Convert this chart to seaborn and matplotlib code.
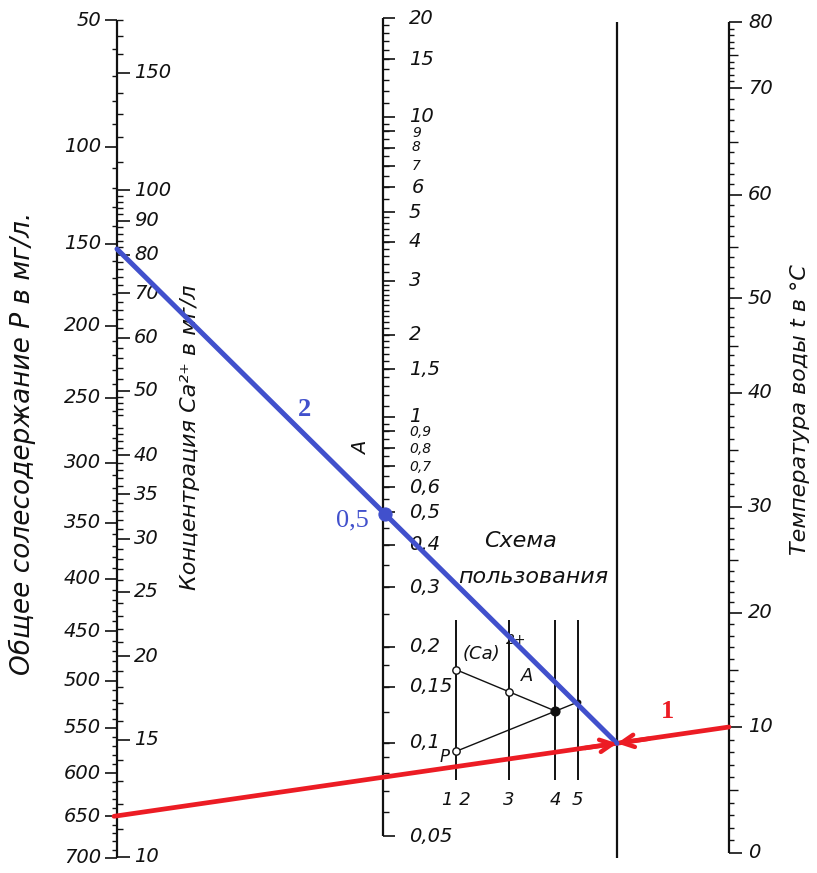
import numpy as np
import pandas as pd
import matplotlib
matplotlib.use('Agg')
import matplotlib.pyplot as plt
import seaborn as sns

# scale values (what is written on each scale)
p_labels = list(range(50, 701, 50))
ca_labels = [10, 15, 20, 25, 30, 35, 40, 50, 60, 70, 80, 90, 100, 150]
a_labels = [0.05, 0.1, 0.15, 0.2, 0.3, 0.4, 0.5, 0.6, 0.7, 0.8, 0.9,
            1, 1.5, 2, 3, 4, 5, 6, 7, 8, 9, 10, 15, 20]
t_labels = list(range(0, 81, 10))

# worked example on the chart: line 1 (P, t) and line 2 (through A)
p_value = 650
t_value = 10
a_value = 0.5

# values used in the small "how to use" scheme
scheme_p = 530
scheme_t = 35
scheme_a = 1.2
scheme_names = ['1 2', '3', '4', '5']

# ---- layout of the nomogram (pixel space) ----
X_LEFT, X_A, X_REF, X_T = 117, 383, 617, 729
INK = '#111111'
BLUE = '#4150cc'
RED = '#ec1c24'

A_CAL = ([0.05, 0.1, 0.2, 0.5, 1, 2, 5, 10, 20],
         [836, 743, 647, 512, 417, 335, 212, 117, 18])
T_CAL = ([0, 10, 20, 30, 40, 50, 60, 70, 80],
         [853, 727, 613, 507, 393, 298, 195, 88, 22])


def y_p(p):
    return 20 + 43.22 * (np.sqrt(np.asarray(p, float)) - np.sqrt(50))


def y_ca(ca):
    return 857 - 667 * np.log10(np.asarray(ca, float) / 10)


def y_a(a):
    return np.interp(np.log10(a), np.log10(A_CAL[0]), A_CAL[1])


def y_t(t):
    return np.interp(t, T_CAL[0], T_CAL[1])


def through(x0, y0, x1, y1, x):
    # y on the straight line through (x0, y0) and (x1, y1)
    return y0 + (y1 - y0) * (x - x0) / (x1 - x0)


def fmt(v):
    return f'{v:g}'.replace('.', ',')


sns.set_style('white')
plt.rcParams['font.family'] = ['DejaVu Sans']

fig = plt.figure(figsize=(8.17, 8.73), dpi=100)
ax = fig.add_axes([0, 0, 1, 1])
ax.set_xlim(0, 817)
ax.set_ylim(873, 0)
ax.axis('off')

lab = dict(fontsize=14, style='italic', color=INK)

# ---- left double scale: P (left side) and Ca (right side) ----
ax.vlines(X_LEFT, y_p(50), y_p(700), color=INK, lw=1.6)
ax.hlines(y_p(p_labels), X_LEFT - 12, X_LEFT, color=INK, lw=1.2)
p_minor = [v for v in range(60, 700, 10) if v % 50]
ax.hlines(y_p(p_minor), X_LEFT - 5, X_LEFT, color=INK, lw=1.0)
for v in p_labels:
    ax.text(X_LEFT - 16, y_p(v), str(v), ha='right', va='center', **lab)

ax.hlines(y_ca(ca_labels), X_LEFT, X_LEFT + 13, color=INK, lw=1.2)
ca_minor = ([v for v in range(11, 50) if v % 5] +
            [v for v in range(52, 100, 2) if v % 10] +
            [v for v in range(110, 190, 10) if v != 150])
ax.hlines(y_ca(ca_minor), X_LEFT, X_LEFT + 6, color=INK, lw=1.0)
for v in ca_labels:
    ax.text(X_LEFT + 17, y_ca(v), str(v), ha='left', va='center', **lab)

# ---- middle scale A ----
ax.vlines(X_A, y_a(20), y_a(0.05), color=INK, lw=1.6)
ax.hlines(y_a(np.array(a_labels)), X_A, X_A + 12, color=INK, lw=1.2)
a_minor = np.concatenate([np.arange(0.06, 0.1, 0.01), np.arange(0.125, 0.2, 0.025),
                          np.arange(0.25, 1.0, 0.05), np.arange(1.1, 3.0, 0.1),
                          np.arange(3.2, 5.0, 0.2), np.arange(5.5, 10, 0.5),
                          np.arange(11, 20, 1)])
ax.hlines(y_a(a_minor), X_A, X_A + 6, color=INK, lw=1.0)
for v in a_labels:
    small = v in (0.7, 0.8, 0.9, 7, 8, 9)
    dy = {0.9: 1, 0.8: 1, 0.7: 1, 9: 2, 8: -1}.get(v, 0)
    ax.text(X_A + 26 + (3 if 6 <= v < 10 else 0), y_a(v) + dy, fmt(v), ha='left', va='center',
            fontsize=10 if small else 14, style='italic', color=INK)
ax.text(X_A - 21, 448, 'A', rotation=90, ha='center', va='center', **lab)

# ---- reference line (no scale) ----
ax.vlines(X_REF, 22, 858, color=INK, lw=1.6)

# ---- right scale: temperature ----
ax.vlines(X_T, y_t(0), y_t(80), color=INK, lw=1.6)
ax.hlines(y_t(t_labels), X_T, X_T + 13, color=INK, lw=1.2)
t_mid = [v for v in range(5, 80, 10)]
ax.hlines(y_t(t_mid), X_T, X_T + 9, color=INK, lw=1.0)
t_minor = [v for v in range(1, 80) if v % 5]
ax.hlines(y_t(t_minor), X_T, X_T + 5, color=INK, lw=1.0)
for v in t_labels:
    ax.text(X_T + 19, y_t(v), str(v), ha='left', va='center', **lab)

# ---- axis titles ----
ax.text(22, 443, 'Общее солесодержание P в мг/л.', rotation=90,
        ha='center', va='center', fontsize=19, style='italic', color=INK)
ax.text(190, 437, 'Концентрация Ca²⁺ в мг/л', rotation=90,
        ha='center', va='center', fontsize=16, style='italic', color=INK)
ax.text(800, 410, 'Температура воды t в °C', rotation=90,
        ha='center', va='center', fontsize=16, style='italic', color=INK)

# ---- scheme of use ----
ax.text(520, 541, 'Схема', ha='center', va='center', fontsize=16, style='italic', color=INK)
ax.text(533, 577, 'пользования', ha='center', va='center', fontsize=16, style='italic', color=INK)


def sx(x):
    return 456 + (x - X_LEFT) * 0.199


def sy(y):
    return 620 + (y - 18) * 0.19


scheme_x = [sx(X_LEFT), sx(X_A), sx(X_REF), sx(X_T)]
ax.vlines(scheme_x, sy(18), sy(858), color=INK, lw=1.4)
sp, st, sa = float(y_p(scheme_p)), float(y_t(scheme_t)), float(y_a(scheme_a))
s_ref = through(X_LEFT, sp, X_T, st, X_REF)
s_ca = through(X_REF, s_ref, X_A, sa, X_LEFT)
ax.plot([sx(X_LEFT), sx(X_REF), sx(X_T)], [sy(sp), sy(s_ref), sy(st)], color=INK, lw=1.0)
ax.plot([sx(X_LEFT), sx(X_REF)], [sy(s_ca), sy(s_ref)], color=INK, lw=1.0)
ax.scatter([sx(X_LEFT), sx(X_LEFT), sx(X_A)], [sy(sp), sy(s_ca), sy(sa)],
           s=28, facecolor='white', edgecolor=INK, lw=1.0, zorder=4)
ax.scatter([sx(X_REF)], [sy(s_ref)], s=40, color=INK, zorder=4)
ax.scatter([sx(X_T)], [sy(st)], s=10, color=INK, zorder=4)
ax.text(sx(X_LEFT) + 7, sy(s_ca) - 16, '(Ca)', ha='left', va='center', fontsize=13, style='italic', color=INK)
ax.text(sx(X_LEFT) + 50, sy(s_ca) - 30, '2+', ha='left', va='center', fontsize=10, style='italic', color=INK)
ax.text(sx(X_A) + 18, sy(sa) - 16, 'A', ha='center', va='center', fontsize=13, style='italic', color=INK)
ax.text(sx(X_LEFT) - 11, sy(sp) + 6, 'P', ha='center', va='center', fontsize=12, style='italic', color=INK)
for x, name in zip(scheme_x, scheme_names):
    ax.text(x, 800, name, ha='center', va='center', fontsize=13, style='italic', color=INK)

# ---- worked example ----
yp0 = float(y_p(p_value))
yt0 = float(y_t(t_value))
ya0 = float(y_a(a_value))
y_ref = through(X_LEFT, yp0, X_T, yt0, X_REF)
y_left = through(X_REF, y_ref, X_A, ya0, X_LEFT)

line1 = pd.DataFrame({'x': [X_LEFT - 3, X_T], 'y': [yp0, yt0]})
line2 = pd.DataFrame({'x': [X_LEFT, X_REF], 'y': [y_left, y_ref]})
sns.lineplot(data=line1, x='x', y='y', color=RED, lw=3.4, ax=ax, estimator=None, zorder=5)
sns.lineplot(data=line2, x='x', y='y', color=BLUE, lw=3.6, ax=ax, estimator=None, zorder=6)
sns.scatterplot(x=[X_A + 2], y=[through(X_REF, y_ref, X_A, ya0, X_A + 2)], s=90,
                color=BLUE, edgecolor=BLUE, ax=ax, zorder=7)

k = (yt0 - yp0) / (X_T - X_LEFT)
for d in (32, -32):
    ax.annotate('', xy=(X_REF, y_ref), xytext=(X_REF + d, y_ref + k * d),
                arrowprops=dict(arrowstyle='->', color=RED, lw=3.2, mutation_scale=22,
                                shrinkA=0, shrinkB=0), zorder=8)

ax.text(352, 520, '0,5', ha='center', va='center', fontsize=19,
        family='Liberation Serif', color=BLUE)
ax.text(305, 410, '2', ha='center', va='center', fontsize=19, fontweight='bold',
        family='Liberation Serif', color=BLUE)
ax.text(668, 711, '1', ha='center', va='center', fontsize=19, fontweight='bold',
        family='Liberation Serif', color=RED)

fig.savefig('out.png', dpi=100)
